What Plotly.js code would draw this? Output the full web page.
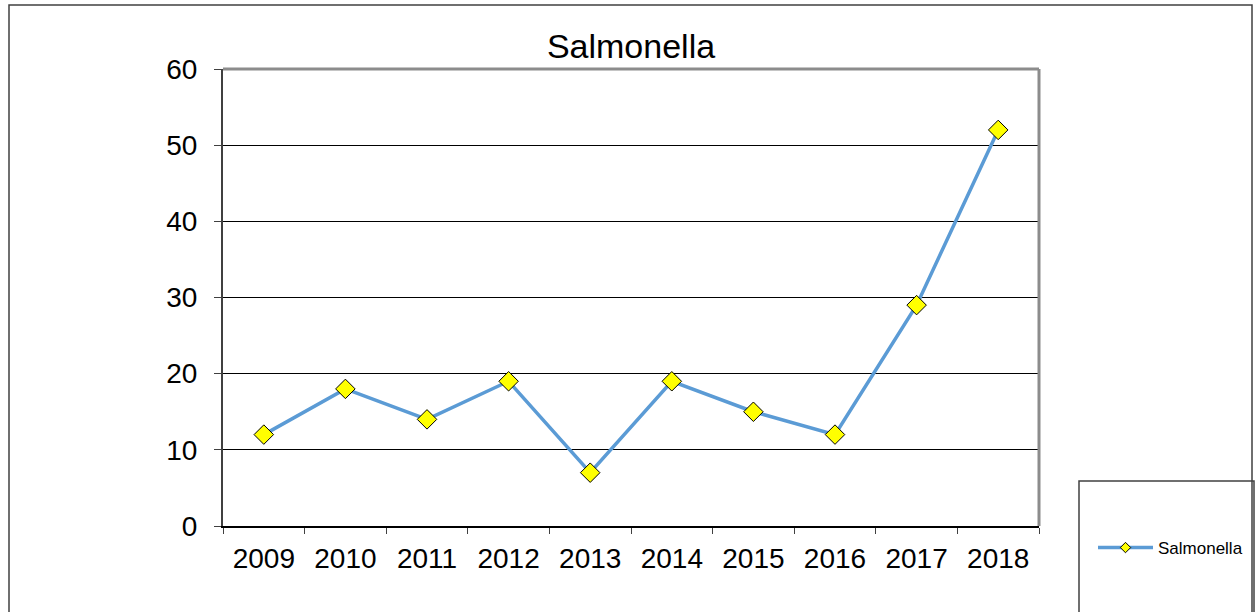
<!DOCTYPE html>
<html><head><meta charset="utf-8">
<script src="https://cdn.plot.ly/plotly-3.0.1.min.js"></script>
<style>html,body{margin:0;padding:0;background:#fff}#chart{width:1258px;height:612px}</style>
</head><body><div id="chart"></div>
<script>
const years = ['2009','2010','2011','2012','2013','2014','2015','2016','2017','2018'];
const salmonella = [12, 18, 14, 19, 7, 19, 15, 12, 29, 52];
const seriesName = 'Salmonella';

const L = 223, R = 1039, T = 69, B = 526, W = 1258, H = 612;
const pw = R - L, ph = B - T;
const px = v => (v - L) / pw;
const py = v => (B - v) / ph;

const lineStyle = {color: '#5B9BD5', width: 3.5};
const trace = {
  x: years, y: salmonella, name: seriesName, type: 'scatter', mode: 'lines+markers',
  line: lineStyle, showlegend: false,
  marker: {symbol: 'diamond', size: 15, color: '#FFFF00', line: {color: '#000', width: 1}}
};
const legendTrace = {
  x: [years[0]], y: [null], name: seriesName, type: 'scatter', mode: 'lines+markers',
  line: lineStyle, showlegend: true, hoverinfo: 'skip',
  marker: {symbol: 'diamond', size: 8, color: '#FFFF00', line: {color: '#000', width: 1}}
};

const layout = {
  width: W, height: H,
  margin: {l: L, r: W - R, t: T, b: H - B, pad: 0},
  paper_bgcolor: '#fff', plot_bgcolor: '#fff',
  font: {family: 'Liberation Sans, Arial, sans-serif', color: '#000'},
  title: {text: 'Salmonella', font: {size: 34, color: '#000'}, x: 0.5, xref: 'paper', y: 1 - 46 / H, yanchor: 'middle'},
  showlegend: true,
  legend: {xref: 'container', yref: 'container', x: 1093 / W, y: 1 - 548 / H, xanchor: 'left', yanchor: 'middle',
           font: {size: 17, color: '#000'}, bgcolor: 'rgba(0,0,0,0)', borderwidth: 0, itemwidth: 55},
  xaxis: {type: 'category', showgrid: false, zeroline: false, showline: true, linecolor: '#000', linewidth: 1.5,
          ticks: 'outside', tickson: 'boundaries', ticklen: 6, tickcolor: '#404040', tickwidth: 1,
          ticklabelstandoff: 7,
          tickfont: {size: 28}, range: [-0.5, 9.5], fixedrange: true, automargin: false},
  yaxis: {range: [0, 60], dtick: 10, tick0: 0, showgrid: true, gridcolor: '#000', gridwidth: 1,
          zeroline: false, showline: true, linecolor: '#404040', linewidth: 2,
          ticks: 'outside', ticklen: 7, tickcolor: '#404040', tickwidth: 1, ticklabelstandoff: 11,
          tickfont: {size: 28}, fixedrange: true, automargin: false},
  shapes: [
    {type: 'rect', xref: 'paper', yref: 'paper', x0: px(9), x1: px(1252), y0: py(5), y1: py(640),
     line: {color: '#404040', width: 1.5}, fillcolor: 'rgba(0,0,0,0)'},
    {type: 'line', xref: 'paper', yref: 'paper', x0: 0, x1: 1, y0: 1, y1: 1, line: {color: '#8c8c8c', width: 3}},
    {type: 'line', xref: 'paper', yref: 'paper', x0: 1, x1: 1, y0: 0, y1: 1, line: {color: '#8c8c8c', width: 3}},
    {type: 'rect', xref: 'paper', yref: 'paper', x0: px(1079), x1: px(1254), y0: py(481), y1: py(640),
     line: {color: '#404040', width: 1.5}, fillcolor: '#fff', layer: 'below'}
  ]
};

Plotly.newPlot('chart', [trace, legendTrace], layout, {displayModeBar: false, staticPlot: true});
</script></body></html>
